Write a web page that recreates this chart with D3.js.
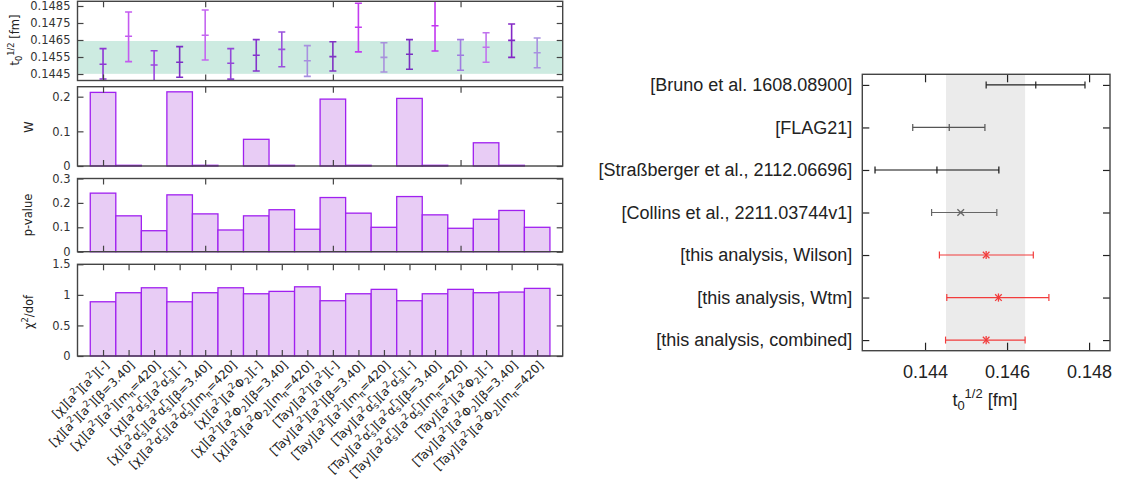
<!DOCTYPE html>
<html><head><meta charset="utf-8">
<script src="https://cdn.jsdelivr.net/npm/d3@7"></script>
<style>body{margin:0;background:#fff} svg{display:block}</style>
</head><body><svg id="c" width="1121" height="490"></svg>
<script>
// ---------------- DATA ----------------
const categories = [
 "[χ][a^2][a^2][-]", "[χ][a^2][a^2][β=3.40]", "[χ][a^2][a^2][m_π=420]",
 "[χ][a^2α_s^Γ][a^2α_s^Γ][-]", "[χ][a^2α_s^Γ][a^2α_s^Γ][β=3.40]", "[χ][a^2α_s^Γ][a^2α_s^Γ][m_π=420]",
 "[χ][a^2][a^2Φ_2][-]", "[χ][a^2][a^2Φ_2][β=3.40]", "[χ][a^2][a^2Φ_2][m_π=420]",
 "[Tay][a^2][a^2][-]", "[Tay][a^2][a^2][β=3.40]", "[Tay][a^2][a^2][m_π=420]",
 "[Tay][a^2α_s^Γ][a^2α_s^Γ][-]", "[Tay][a^2α_s^Γ][a^2α_s^Γ][β=3.40]", "[Tay][a^2α_s^Γ][a^2α_s^Γ][m_π=420]",
 "[Tay][a^2][a^2Φ_2][-]", "[Tay][a^2][a^2Φ_2][β=3.40]", "[Tay][a^2][a^2Φ_2][m_π=420]"
];
const t0Center = [0.14507,0.14672,0.14503,0.14519,0.14678,0.14513,0.1456,0.14595,0.14528,0.14552,0.14725,0.14548,0.14566,0.14734,0.1456,0.14607,0.14648,0.14575];
const t0Lower  = [0.14421,0.14523,0.14405,0.14431,0.14532,0.1442,0.14468,0.14493,0.14436,0.14468,0.1458,0.14462,0.14478,0.14585,0.14472,0.14519,0.14548,0.14487];
const t0Upper  = [0.14599,0.14815,0.14587,0.14611,0.14826,0.14599,0.14652,0.14697,0.14617,0.1464,0.14866,0.14634,0.14652,0.14885,0.14652,0.14693,0.14744,0.14662];
const t0Band = [0.14451, 0.14644];
const wValues = [0.2124,0.002,0,0.214,0.002,0,0.077,0.002,0,0.193,0.002,0,0.195,0.002,0,0.067,0.002,0];
const pValues = [0.240,0.147,0.086,0.233,0.155,0.089,0.147,0.172,0.092,0.222,0.158,0.100,0.226,0.151,0.096,0.133,0.169,0.100];
const chi2Values = [0.887,1.035,1.116,0.887,1.035,1.116,1.018,1.057,1.132,0.904,1.018,1.09,0.904,1.018,1.09,1.035,1.046,1.106];
const t0Ticks = [0.1445,0.1455,0.1465,0.1475,0.1485];
const wTicks = [0,0.1,0.2];
const pTicks = [0,0.1,0.2,0.3];
const chi2Ticks = [0,0.5,1,1.5];
const sparseXTicks = [0,4,9,14];

const refLabels = ["[Bruno et al. 1608.08900]","[FLAG21]","[Straßberger et al., 2112.06696]","[Collins et al., 2211.03744v1]","[this analysis, Wilson]","[this analysis, Wtm]","[this analysis, combined]"];
const refCenter = [0.14670,0.14459,0.14429,0.14487,0.14549,0.14579,0.14549];
const refLower  = [0.14549,0.14370,0.14278,0.14416,0.14435,0.14453,0.14450];
const refUpper  = [0.14790,0.14546,0.14580,0.14575,0.14664,0.14702,0.14644];
const refBand = [0.14451, 0.14644];
const refXTicks = [0.144,0.146,0.148];

// ---------------- STYLE ----------------
const errColors = ["#8e36d4","#c45af0","#9c44e0","#7c2ec6","#c466f0","#9449d8","#8434cc","#9a52dc","#a890e0","#8034c4","#c33cf0","#a890dc","#7a30c2","#c236f0","#a07ce0","#c072ee","#8428c6","#a890e0"];
const refColors = ["#222","#555","#111","#666","#f23c3c","#f23c3c","#f23c3c"];
const refMarkers = ["tick","tick","tick","x","star","star","star"];
const barFill = "#e8ccf5", barStroke = "#a020f0";
const leftFont = "'DejaVu Sans', sans-serif";
const rightFont = "'Liberation Sans', Arial, sans-serif";
const borderCol = "#444";

const svg = d3.select("#c");

// rich text: ^X, ^{..}, _X, _{..}; single-char sub followed by single-char sup is stacked
function rich(textSel, str, fs, scale) {
  scale = scale || 0.72;
  const toks = [];
  let i = 0, buf = "";
  while (i < str.length) {
    const c = str[i];
    if (c === "^" || c === "_") {
      if (buf) { toks.push({t: buf, k: "n"}); buf = ""; }
      let s;
      if (str[i+1] === "{") { const j = str.indexOf("}", i+2); s = str.slice(i+2, j); i = j+1; }
      else { s = str[i+1]; i += 2; }
      toks.push({t: s, k: c === "^" ? "sup" : "sub"});
    } else { buf += c; i++; }
  }
  if (buf) toks.push({t: buf, k: "n"});
  let cur = 0, prevSub = null;
  toks.forEach(tk => {
    const shift = tk.k === "sup" ? -0.42*fs : tk.k === "sub" ? 0.22*fs : 0;
    const ts = textSel.append("tspan").text(tk.t).attr("dy", shift - cur);
    if (tk.k !== "n") ts.attr("font-size", fs*scale);
    if (tk.k === "sup" && prevSub && tk.t.length === 1 && prevSub.text().length === 1)
      ts.attr("dx", -prevSub.node().getComputedTextLength());
    prevSub = tk.k === "sub" ? ts : null;
    cur = shift;
  });
}

// ---------------- LEFT PANELS ----------------
const LX0 = 77.5, LX1 = 562.7;
const x = d3.scaleLinear().domain([-1, 18]).range([LX0, LX1]);
const bw = x(1) - x(0);

function panel(top, bottom, domain, ticks, fmt, xTickVals) {
  const y = d3.scaleLinear().domain(domain).range([bottom, top]);
  const g = svg.append("g");
  const content = g.append("g");
  const axL = g.append("g").attr("transform", `translate(${LX0},0)`)
    .call(d3.axisLeft(y).tickValues(ticks).tickSize(-6).tickPadding(7).tickFormat(fmt));
  const axR = g.append("g").attr("transform", `translate(${LX1},0)`)
    .call(d3.axisRight(y).tickValues(ticks).tickSize(-6).tickFormat(""));
  const axT = g.append("g").attr("transform", `translate(0,${top})`)
    .call(d3.axisTop(x).tickValues(xTickVals).tickSize(-6).tickFormat(""));
  const axB = g.append("g").attr("transform", `translate(0,${bottom})`)
    .call(d3.axisBottom(x).tickValues(xTickVals).tickSize(-6).tickFormat(""));
  [axL, axR, axT, axB].forEach(a => {
    a.select(".domain").remove();
    a.selectAll("line").attr("stroke", borderCol).attr("stroke-width", 1.2);
    a.selectAll("text").attr("font-family", leftFont).attr("font-size", 11.5).attr("fill", "#333");
  });
  g.append("rect").attr("x", LX0).attr("y", top).attr("width", LX1-LX0).attr("height", bottom-top)
    .attr("fill", "none").attr("stroke", borderCol).attr("stroke-width", 1.4);
  return {y, content, g};
}

function bars(p, vals) {
  p.content.selectAll("rect").data(vals).join("rect")
    .attr("x", (d,i) => x(i) - bw/2).attr("width", bw)
    .attr("y", d => p.y(d)).attr("height", d => p.y(0) - p.y(d))
    .attr("fill", barFill).attr("stroke", d => d > 0 ? barStroke : "none").attr("stroke-width", 1.3);
}

// Panel 1: t0
const P1 = panel(1.3, 80.5, [0.144118, 0.148776], t0Ticks, d3.format(".4f"), sparseXTicks);
svg.append("clipPath").attr("id","clip1").append("rect").attr("x",LX0).attr("y",1.3).attr("width",LX1-LX0).attr("height",79.2);
P1.content.attr("clip-path","url(#clip1)");
P1.content.append("rect").attr("x", LX0).attr("width", LX1-LX0)
  .attr("y", P1.y(t0Band[1])).attr("height", P1.y(t0Band[0]) - P1.y(t0Band[1])).attr("fill", "#cdebe1");
const eb = P1.content.selectAll("g.eb").data(categories).join("g").attr("class","eb")
  .attr("stroke", (d,i) => errColors[i]).attr("stroke-width", 1.6);
eb.append("line").attr("x1",(d,i)=>x(i)).attr("x2",(d,i)=>x(i)).attr("y1",(d,i)=>P1.y(t0Lower[i])).attr("y2",(d,i)=>P1.y(t0Upper[i]));
[t0Lower, t0Center, t0Upper].forEach(arr => {
  eb.append("line").attr("x1",(d,i)=>x(i)-3.5).attr("x2",(d,i)=>x(i)+3.5).attr("y1",(d,i)=>P1.y(arr[i])).attr("y2",(d,i)=>P1.y(arr[i]));
});

// Panel 2: W
const P2 = panel(86.7, 166, [0, 0.2288], wTicks, d3.format(""), sparseXTicks);
bars(P2, wValues);
// Panel 3: p-value
const P3 = panel(178.5, 251.7, [0, 0.3], pTicks, d3.format(""), sparseXTicks);
bars(P3, pValues);
// Panel 4: chi2
const P4 = panel(264.3, 356, [0, 1.5], chi2Ticks, d3.format(""), d3.range(categories.length));
bars(P4, chi2Values);

// Rotated category labels
categories.forEach((c, i) => {
  const t = svg.append("text").attr("transform", `translate(${x(i)+4},${363}) rotate(-45)`)
    .attr("text-anchor", "end").attr("font-family", leftFont).attr("font-size", 12).attr("fill", "#222")
    .attr("y", 4);
  rich(t, c, 12, 0.75);
});

// y titles
function yTitle(cx, cy, str, fs, font) {
  const t = svg.append("text").attr("transform", `translate(${cx},${cy}) rotate(-90)`)
    .attr("text-anchor", "middle").attr("font-family", font).attr("font-size", fs).attr("fill", "#222");
  rich(t, str, fs);
}
yTitle(19, 40, "t_0^{1/2} [fm]", 11.5, leftFont);
yTitle(33, 127, "W", 11.5, leftFont);
yTitle(32, 215, "p-value", 11.5, leftFont);
yTitle(33, 312, "χ^2/dof", 11.5, leftFont);

// ---------------- RIGHT PANEL ----------------
const RX0 = 862.3, RX1 = 1110, RY0 = 74.3, RY1 = 350.7;
const rx = d3.scaleLinear().domain([0.14247, 0.14851]).range([RX0, RX1]);
const ry = d3.scaleLinear().domain([-0.25, 6.25]).range([RY0, RY1]);
const rg = svg.append("g");
rg.append("rect").attr("x", rx(refBand[0])).attr("width", rx(refBand[1]) - rx(refBand[0]))
  .attr("y", RY0).attr("height", RY1-RY0).attr("fill", "#ebebeb");
const rAxes = [
  rg.append("g").attr("transform",`translate(0,${RY1})`).call(d3.axisBottom(rx).tickValues(refXTicks).tickSize(-8).tickPadding(15).tickFormat(d3.format(".3f"))),
  rg.append("g").attr("transform",`translate(0,${RY0})`).call(d3.axisTop(rx).tickValues(refXTicks).tickSize(-8).tickFormat("")),
  rg.append("g").attr("transform",`translate(${RX0},0)`).call(d3.axisLeft(ry).tickValues(d3.range(7)).tickSize(-7).tickPadding(10).tickFormat(i => refLabels[i])),
  rg.append("g").attr("transform",`translate(${RX1},0)`).call(d3.axisRight(ry).tickValues(d3.range(7)).tickSize(-7).tickFormat(""))
];
rAxes.forEach(a => {
  a.select(".domain").remove();
  a.selectAll("line").attr("stroke", "#222").attr("stroke-width", 1.2);
  a.selectAll("text").attr("font-family", rightFont).attr("font-size", 18).attr("fill", "#222");
});
rg.append("rect").attr("x", RX0).attr("y", RY0).attr("width", RX1-RX0).attr("height", RY1-RY0)
  .attr("fill","none").attr("stroke", borderCol).attr("stroke-width", 1.4);

const rEb = rg.selectAll("g.reb").data(refLabels).join("g").attr("class","reb")
  .attr("stroke", (d,i) => refColors[i]).attr("stroke-width", 1.2);
rEb.append("line").attr("x1",(d,i)=>rx(refLower[i])).attr("x2",(d,i)=>rx(refUpper[i])).attr("y1",(d,i)=>ry(i)).attr("y2",(d,i)=>ry(i));
[refLower, refUpper].forEach(arr => {
  rEb.append("line").attr("x1",(d,i)=>rx(arr[i])).attr("x2",(d,i)=>rx(arr[i])).attr("y1",(d,i)=>ry(i)-3.5).attr("y2",(d,i)=>ry(i)+3.5);
});
rEb.each(function(d, i) {
  const g = d3.select(this), cx = rx(refCenter[i]), cy = ry(i);
  const m = refMarkers[i];
  if (m === "tick") {
    g.append("line").attr("x1",cx).attr("x2",cx).attr("y1",cy-3.5).attr("y2",cy+3.5);
  } else {
    const s = 3.3;
    g.append("line").attr("x1",cx-s).attr("x2",cx+s).attr("y1",cy-s).attr("y2",cy+s).attr("stroke-width",1.3);
    g.append("line").attr("x1",cx-s).attr("x2",cx+s).attr("y1",cy+s).attr("y2",cy-s).attr("stroke-width",1.3);
    if (m === "star") {
      g.append("line").attr("x1",cx).attr("x2",cx).attr("y1",cy-s-0.8).attr("y2",cy+s+0.8).attr("stroke-width",1.3);
    }
  }
});

const xt = svg.append("text").attr("x", 985).attr("y", 406).attr("text-anchor","middle")
  .attr("font-family", rightFont).attr("font-size", 18).attr("fill", "#222");
rich(xt, "t_0^{1/2} [fm]", 18);
</script></body></html>
